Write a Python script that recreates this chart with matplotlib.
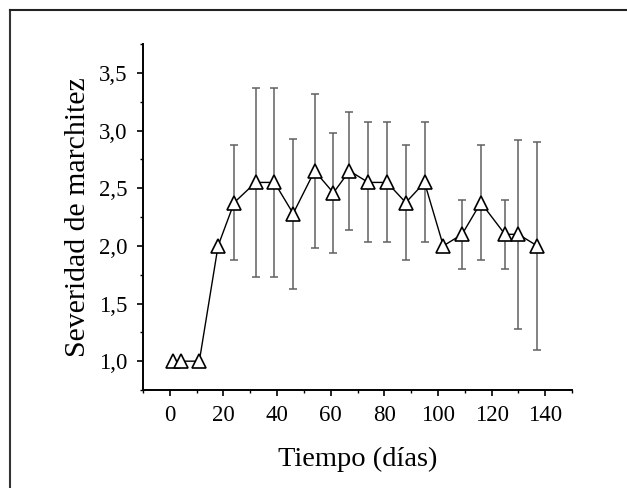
import matplotlib
matplotlib.use("Agg")
import matplotlib.pyplot as plt
from matplotlib.lines import Line2D
from matplotlib.ticker import MultipleLocator, FuncFormatter

# Datos
dias = [1, 4, 11, 18, 24, 32, 39, 46, 54, 61, 67, 74, 81, 88, 95, 102, 109, 116, 125, 130, 137]
severidad = [1.0, 1.0, 1.0, 2.0, 2.375, 2.55, 2.55, 2.28, 2.65, 2.46, 2.65, 2.55, 2.55,
             2.375, 2.55, 2.0, 2.1, 2.375, 2.1, 2.1, 2.0]
error = [0, 0, 0, 0, 0.5, 0.82, 0.82, 0.65, 0.67, 0.52, 0.51, 0.52, 0.52,
         0.5, 0.52, 0, 0.3, 0.5, 0.3, 0.82, 0.9]

plt.rcParams["font.family"] = ["Liberation Serif", "DejaVu Serif"]

fig = plt.figure(figsize=(6.27, 4.88), dpi=100)
ax = fig.add_axes([0.2281, 0.2008, 0.6842, 0.709])

# Barras de error
ax.errorbar(dias, severidad, yerr=error, fmt="none", ecolor="#606060",
            elinewidth=1.1, capsize=2.6, capthick=1.1, zorder=2)
# Línea con triángulos
ax.plot(dias, severidad, color="black", linewidth=1.0, marker="^",
        markersize=9.5, markerfacecolor="white", markeredgecolor="black",
        markeredgewidth=1.2, zorder=3)

ax.set_xlim(-10, 150)
ax.set_ylim(0.75, 3.75)
ax.xaxis.set_major_locator(MultipleLocator(20))
ax.xaxis.set_minor_locator(MultipleLocator(10))
ax.yaxis.set_major_locator(MultipleLocator(0.5))
ax.yaxis.set_minor_locator(MultipleLocator(0.25))
ax.yaxis.set_major_formatter(FuncFormatter(lambda v, p: f"{v:.1f}".replace(".", ",")))

ax.spines["top"].set_visible(False)
ax.spines["right"].set_visible(False)
ax.spines["left"].set_linewidth(1.4)
ax.spines["bottom"].set_linewidth(1.4)
ax.tick_params(which="major", direction="out", length=4, width=1.2, labelsize=16.5)
ax.tick_params(axis="x", which="major", pad=7)
ax.tick_params(axis="y", which="major", pad=7)
ax.tick_params(which="minor", direction="out", length=2.5, width=1.0)

ax.set_xlabel("Tiempo (días)", fontsize=20.5, labelpad=15)
ax.set_ylabel("Severidad de marchitez", fontsize=21.5, labelpad=6)

# Marco del recuadro (solo borde superior e izquierdo visibles)
fig.add_artist(Line2D([9.5 / 627, 9.5 / 627], [0, 1 - 9.5 / 488], transform=fig.transFigure,
                      color="#333333", linewidth=1.5))
fig.add_artist(Line2D([9.5 / 627, 1], [1 - 9.5 / 488, 1 - 9.5 / 488], transform=fig.transFigure,
                      color="#222222", linewidth=1.5))

fig.savefig("out.png", dpi=100)
